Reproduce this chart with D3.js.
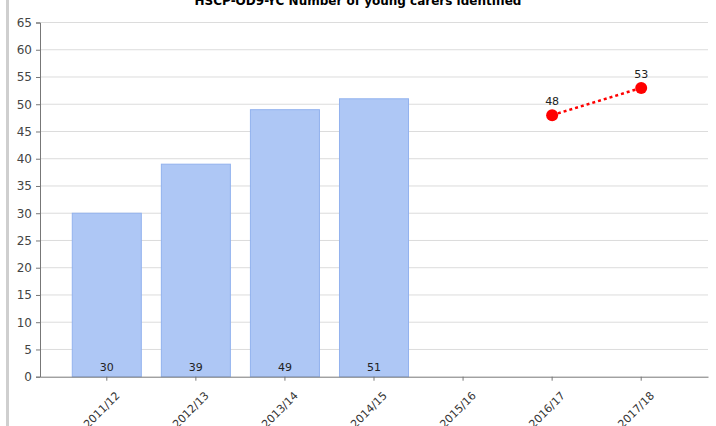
<!doctype html>
<html>
<head>
    <title>young carers chart</title>
    <style>
        body { margin: 0; background: #fff; }
        text { font-family: "DejaVu Sans", Verdana, sans-serif; }
    </style>
    <script src="https://d3js.org/d3.v7.min.js"></script>
</head>
<body>
    <svg width="716" height="426"></svg>
    <script>
        // chart data
        var categories = ["2011/12", "2012/13", "2013/14", "2014/15", "2015/16", "2016/17", "2017/18"];
        var barValues = [30, 39, 49, 51, null, null, null];
        var lineValues = [null, null, null, null, null, 48, 53];
        var yTicks = [0, 5, 10, 15, 20, 25, 30, 35, 40, 45, 50, 55, 60, 65];

        var svg = d3.select("svg");

        // grey border at left
        svg.append("rect")
            .attr("x", 6).attr("y", 0)
            .attr("width", 3).attr("height", 426)
            .attr("fill", "#cfcfcf");

        svg.append("text")
            .attr("x", 358)
            .attr("y", 5)
            .attr("text-anchor", "middle")
            .attr("font-size", "12px")
            .attr("font-weight", "bold")
            .attr("fill", "#000")
            .text("HSCP-OD9-YC Number of young carers identified");

        var plotLeft = 40, plotRight = 708, plotTop = 22.5, plotBottom = 376.7;

        var x = d3.scaleBand().domain(categories).range([plotLeft, plotRight])
            .paddingInner(0).paddingOuter(0.25);
        var y = d3.scaleLinear().domain([0, 65]).range([plotBottom, plotTop]);

        // gridlines
        svg.append("g").selectAll("line")
            .data(yTicks.slice(1))
            .enter().append("line")
            .attr("x1", plotLeft).attr("x2", plotRight)
            .attr("y1", function (d) { return y(d); })
            .attr("y2", function (d) { return y(d); })
            .attr("stroke", "#dcdcdc");

        // bars
        var bw = x.bandwidth() * 0.775;
        var barData = categories.map(function (c, i) { return { cat: c, value: barValues[i] }; })
            .filter(function (d) { return d.value != null; });

        svg.append("g").selectAll("rect")
            .data(barData)
            .enter().append("rect")
            .attr("x", function (d) { return x(d.cat) + (x.bandwidth() - bw) / 2; })
            .attr("y", function (d) { return y(d.value); })
            .attr("width", bw)
            .attr("height", function (d) { return plotBottom - y(d.value); })
            .attr("fill", "#aec7f5")
            .attr("stroke", "#92b2ee")
            .attr("stroke-width", 1);

        svg.append("g").selectAll("text")
            .data(barData)
            .enter().append("text")
            .attr("x", function (d) { return x(d.cat) + x.bandwidth() / 2; })
            .attr("y", plotBottom - 6)
            .attr("text-anchor", "middle")
            .attr("font-size", "11px")
            .attr("fill", "#222")
            .text(function (d) { return d.value; });

        // y axis
        var yAxis = svg.append("g")
            .attr("transform", "translate(" + plotLeft + ",0)")
            .call(d3.axisLeft(y).tickValues(yTicks).tickSize(4).tickPadding(4));
        yAxis.select(".domain").attr("stroke", "#777");
        yAxis.selectAll(".tick line").attr("stroke", "#777");
        yAxis.selectAll(".tick text")
            .attr("font-size", "12px")
            .attr("fill", "#444")
            .style("font-family", "'DejaVu Sans', Verdana, sans-serif");

        // x axis
        var xAxis = svg.append("g")
            .attr("transform", "translate(0," + plotBottom + ")")
            .call(d3.axisBottom(x).tickSize(4).tickSizeOuter(0));
        xAxis.select(".domain").attr("stroke", "#777");
        xAxis.selectAll(".tick line").attr("stroke", "#777");
        xAxis.selectAll(".tick text")
            .attr("font-size", "11px")
            .attr("fill", "#333")
            .style("font-family", "'DejaVu Sans', Verdana, sans-serif")
            .attr("text-anchor", "end")
            .attr("dy", "0.35em")
            .attr("transform", "translate(6,12) rotate(-45)");

        // line series
        var lineData = categories.map(function (c, i) { return { cat: c, value: lineValues[i] }; })
            .filter(function (d) { return d.value != null; });
        var cx = function (d) { return x(d.cat) + x.bandwidth() / 2; };

        svg.append("path")
            .datum(lineData)
            .attr("fill", "none")
            .attr("stroke", "#ff0000")
            .attr("stroke-width", 2.5)
            .attr("stroke-dasharray", "3,3")
            .attr("d", d3.line().x(cx).y(function (d) { return y(d.value); }));

        svg.append("g").selectAll("circle")
            .data(lineData)
            .enter().append("circle")
            .attr("cx", cx)
            .attr("cy", function (d) { return y(d.value); })
            .attr("r", 6)
            .attr("fill", "#ff0000");

        svg.append("g").selectAll("text")
            .data(lineData)
            .enter().append("text")
            .attr("x", cx)
            .attr("y", function (d) { return y(d.value) - 10; })
            .attr("text-anchor", "middle")
            .attr("font-size", "11px")
            .attr("fill", "#222")
            .text(function (d) { return d.value; });
    </script>
</body>
</html>
